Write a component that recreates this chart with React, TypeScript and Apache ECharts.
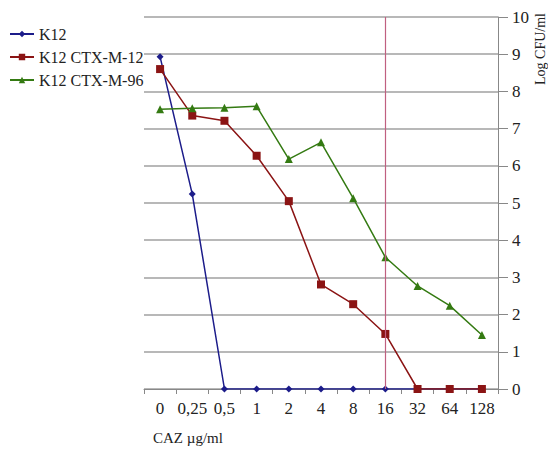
import React, { useEffect, useRef } from "react";
import * as echarts from "echarts";

const categories = ["0", "0,25", "0,5", "1", "2", "4", "8", "16", "32", "64", "128"];
const k12 = [8.93, 5.24, 0, 0, 0, 0, 0, 0, 0, 0, 0];
const k12ctxm12 = [8.6, 7.35, 7.21, 6.27, 5.05, 2.81, 2.28, 1.48, 0, 0, 0];
const k12ctxm96 = [7.52, 7.55, 7.56, 7.6, 6.18, 6.63, 5.13, 3.54, 2.77, 2.24, 1.45];
const markCategory = "16";

const FONT = "Liberation Serif";

export default function App() {
  const ref = useRef<HTMLDivElement>(null);
  useEffect(() => {
    const chart = echarts.init(ref.current!, undefined, { renderer: "svg" });
    chart.setOption({
      animation: false,
      backgroundColor: "#fff",
      textStyle: { fontFamily: FONT },
      grid: { left: 144, right: 50, top: 17, bottom: 60 },
      legend: {
        orient: "vertical",
        left: 4,
        top: 21,
        itemGap: 7,
        itemWidth: 24,
        itemHeight: 8,
        textStyle: { fontFamily: FONT, fontSize: 16, color: "#222" },
        data: ["K12", "K12 CTX-M-12", "K12 CTX-M-96"],
      },
      xAxis: {
        type: "category",
        data: categories,
        boundaryGap: true,
        axisLine: { show: true, lineStyle: { color: "#888", width: 1 } },
        axisTick: { show: true, length: 5, lineStyle: { color: "#888" } },
        axisLabel: { fontFamily: FONT, fontSize: 17, color: "#222", margin: 11, interval: 0 },
        splitLine: { show: false },
      },
      yAxis: {
        type: "value",
        position: "right",
        min: 0,
        max: 10,
        interval: 1,
        axisLine: { show: true, lineStyle: { color: "#888", width: 1 } },
        axisTick: { show: true, inside: false, length: 10, lineStyle: { color: "#888" } },
        axisLabel: { fontFamily: FONT, fontSize: 17, color: "#222", margin: 14 },
        splitLine: { show: true, lineStyle: { color: "#a0a0a0", width: 1.5 } },
      },
      graphic: [
        {
          type: "text",
          x: 533,
          y: 49,
          rotation: Math.PI / 2,
          style: {
            text: "Log CFU/ml",
            fontFamily: FONT,
            fontSize: 14,
            fill: "#222",
            align: "center",
            verticalAlign: "top",
          },
        },
        {
          type: "text",
          x: 153,
          y: 430,
          style: {
            text: "CAZ µg/ml",
            fontFamily: FONT,
            fontSize: 15,
            fill: "#222",
          },
        },
      ],
      series: [
        {
          name: "K12",
          type: "line",
          data: k12,
          color: "#1c1c8a",
          symbol: "diamond",
          symbolSize: 7,
          lineStyle: { width: 1.5 },
        },
        {
          name: "K12 CTX-M-12",
          type: "line",
          data: k12ctxm12,
          color: "#8b1414",
          symbol: "rect",
          symbolSize: 8,
          lineStyle: { width: 1.5 },
          markLine: {
            silent: true,
            symbol: ["none", "none"],
            label: { show: false },
            emphasis: { disabled: true },
            lineStyle: { color: "#c06080", width: 1.2, type: "solid", opacity: 1 },
            data: [{ xAxis: markCategory, lineStyle: { color: "#c06080" } }],
          },
        },
        {
          name: "K12 CTX-M-96",
          type: "line",
          data: k12ctxm96,
          color: "#347a12",
          symbol: "triangle",
          symbolSize: 8,
          lineStyle: { width: 1.5 },
        },
      ],
    });
    return () => chart.dispose();
  }, []);
  return <div ref={ref} style={{ width: 548, height: 449, position: "absolute", left: 0, top: 0 }} />;
}
